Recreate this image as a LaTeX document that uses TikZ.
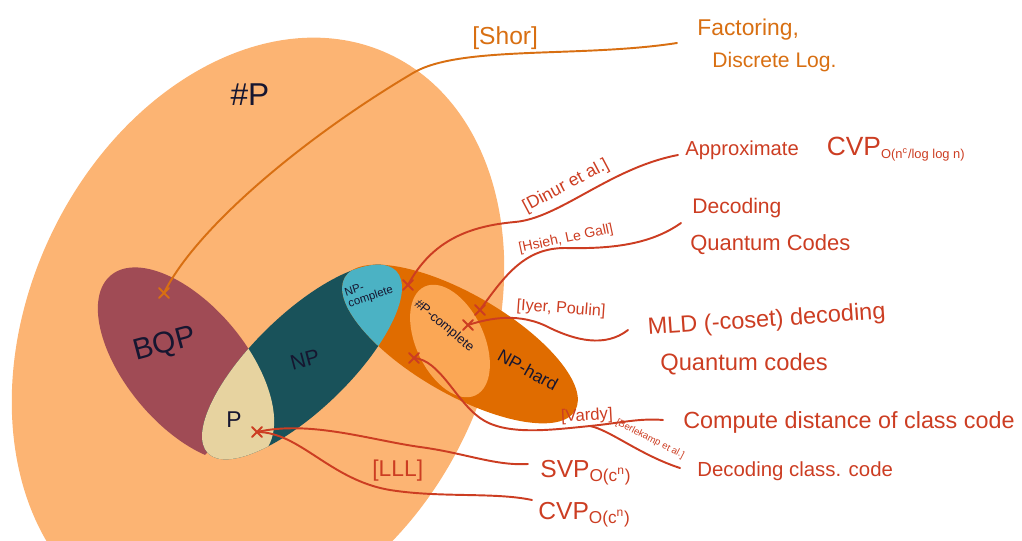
\documentclass[tikz,border=0pt]{standalone}
\usepackage{fontspec}
\setmainfont{Liberation Sans}
\definecolor{cSharpP}{HTML}{FCB473}
\definecolor{cBQP}{HTML}{A04B55}
\definecolor{cNP}{HTML}{19525A}
\definecolor{cP}{HTML}{E7D3A0}
\definecolor{cNPh}{HTML}{E06C00}
\definecolor{cNPc}{HTML}{4BB2C4}
\definecolor{cSPc}{HTML}{FBA755}
\definecolor{cRed}{HTML}{CC3D22}
\definecolor{cShor}{HTML}{D86F12}
\definecolor{cInk}{HTML}{161630}
\newcommand\fsz[1]{\fontsize{#1}{#1}\selectfont}
\newcommand\crossmark[2]{\draw[#1] (#2) ++(-5,-5) -- ++(10,10) (#2) ++(-5,5) -- ++(10,-10);}
\tikzset{
  redline/.style={draw=cRed, line width=1.1pt, line cap=round},
  shorline/.style={draw=cShor, line width=1.1pt, line cap=round},
  redtext/.style={text=cRed, inner sep=0pt},
  shortext/.style={text=cShor, inner sep=0pt},
  classtext/.style={text=cInk, inner sep=0pt},
}
\begin{document}
\begin{tikzpicture}[x=0.02cm, y=-0.02cm]
\useasboundingbox (0,0) rectangle (1022,541);
% regions
\fill[cSharpP, shift={(258,335)}, rotate=-25] (0,0) ellipse [x radius=230, y radius=310];
\fill[cBQP, shift={(186,365)}, rotate=-50] (0,0) ellipse [x radius=117, y radius=60];
% trim the part of BQP that lies below the lower end of NP
\begin{scope}
  \clip (86,570) -- (518,153) -- (726,369) -- (294,786) -- cycle;
  \fill[cSharpP, shift={(186,365)}, rotate=-50] (0,0) ellipse [x radius=118, y radius=61];
\end{scope}
\fill[cNP, shift={(302,362)}, rotate=44] (0,0) ellipse [x radius=131, y radius=48];
\begin{scope}
  \clip[shift={(186,365)}, rotate=-50] (0,0) ellipse [x radius=117, y radius=60];
  \fill[cP, shift={(302,362)}, rotate=44] (0,0) ellipse [x radius=131, y radius=48];
\end{scope}
\fill[cNPh, shift={(460,344)}, rotate=-30] (0,0) ellipse [x radius=133, y radius=50];
\begin{scope}
  \clip[shift={(302,362)}, rotate=44] (0,0) ellipse [x radius=131, y radius=48];
  \fill[cNPc, shift={(460,344)}, rotate=-30] (0,0) ellipse [x radius=133, y radius=50];
\end{scope}
\fill[cSPc, shift={(450,341)}, rotate=-65] (0,0) ellipse [x radius=60, y radius=34];

% cross points and line ends
\coordinate (xShor) at (164,293);
\coordinate (xDinur) at (408,285);
\coordinate (xHsieh) at (480,310);
\coordinate (xIyer) at (468,325);
\coordinate (xVardy) at (414,358);
\coordinate (xLLL) at (257,432);
\coordinate (wShor) at (413,73);
\coordinate (eShor) at (677,43);
\coordinate (wDinur) at (515,222);
\coordinate (eDinur) at (678,155);
\coordinate (wHsieh) at (565,248);
\coordinate (eHsieh) at (681,223);
\coordinate (wIyer) at (550,328);
\coordinate (eIyer) at (628,330);
\coordinate (wVardy) at (480,418);
\coordinate (bVardy) at (590,426);
\coordinate (eComp) at (663,420);
\coordinate (eDcc) at (680,468);
\coordinate (wSvp) at (420,447);
\coordinate (eSvp) at (528,464);
\coordinate (wCvp) at (390,490);
\coordinate (eCvp) at (532,500);

% connectors
\draw[shorline] (xShor) .. controls (195,230) and (300,140) .. (wShor)
  .. controls (460,45) and (580,58) .. (eShor);
\draw[redline] (xDinur) .. controls (432,240) and (470,226) .. (wDinur)
  .. controls (560,218) and (610,168) .. (eDinur);
\draw[redline] (xHsieh) .. controls (505,275) and (525,248) .. (wHsieh)
  .. controls (610,249) and (650,245) .. (eHsieh);
\draw[redline] (xIyer) .. controls (490,318) and (520,312) .. (wIyer)
  .. controls (575,340) and (605,348) .. (eIyer);
\draw[redline] (xVardy) .. controls (440,360) and (455,400) .. (wVardy)
  .. controls (505,436) and (550,430) .. (bVardy)
  .. controls (620,423) and (640,418) .. (eComp);
\draw[redline] (bVardy) .. controls (610,430) and (640,455) .. (eDcc);
\draw[redline] (xLLL) .. controls (310,420) and (370,440) .. (wSvp)
  .. controls (465,453) and (495,466) .. (eSvp);
\draw[redline] (xLLL) .. controls (300,432) and (330,480) .. (wCvp)
  .. controls (440,498) and (495,492) .. (eCvp);

% crosses
\crossmark{shorline}{xShor}
\crossmark{redline}{xDinur}
\crossmark{redline}{xHsieh}
\crossmark{redline}{xIyer}
\crossmark{redline}{xVardy}
\crossmark{redline}{xLLL}

% class labels
\node[classtext, font=\fsz{18}] (lSharpP) at (250,95) {\#P};
\node[classtext, font=\fsz{17}, rotate=15] (lBQP) at (165,345) {BQP};
\node[classtext, font=\fsz{12}, rotate=15] (lNP) at (305,360) {NP};
\node[classtext, font=\fsz{13}] (lP) at (234,420) {P};
\node[classtext, font=\fsz{6.5}, rotate=18, align=left] (lNPc) at (369,292) {NP-\\complete};
\node[classtext, font=\fsz{7.4}, rotate=-40] (lSPc) at (444,326) {\#P-complete};
\node[classtext, font=\fsz{10}, rotate=-29] (lNPh) at (528,370) {NP-hard};

% reference labels
\node[shortext, font=\fsz{14}, anchor=base west] (rShor) at (472,45) {[Shor]};
\node[redtext, font=\fsz{10}, rotate=28] (rDinur) at (566,186) {[Dinur et al.]};
\node[redtext, font=\fsz{8}, rotate=12] (rHsieh) at (566,239) {[Hsieh, Le Gall]};
\node[redtext, font=\fsz{9.2}, rotate=-4] (rIyer) at (561,309) {[Iyer, Poulin]};
\node[redtext, font=\fsz{9.5}, anchor=base west, rotate=3] (rVardy) at (561,422) {[Vardy]};
\node[redtext, font=\fsz{5.5}, rotate=-27] (rBerl) at (650,439) {[Berlekamp et al.]};
\node[redtext, font=\fsz{13}, anchor=base west] (rLLL) at (372,476) {[LLL]};

% problem labels
\node[shortext, font=\fsz{13}, anchor=base west] (tFact) at (697,35) {Factoring,};
\node[shortext, font=\fsz{12}, anchor=base west] (tDlog) at (712,68) {Discrete Log.};
\node[redtext, font=\fsz{11.5}, anchor=base west] (tApprox) at (685,155) {Approximate\hspace{16pt}{\fsz{15}CVP}{\fsz{10.5}\textsubscript{O(n\textsuperscript{c}/log log n)}}};
\node[redtext, font=\fsz{12}, anchor=base west] (tDec1) at (692,213) {Decoding};
\node[redtext, font=\fsz{12.5}, anchor=base west] (tDec2) at (690,250) {Quantum Codes};
\node[redtext, font=\fsz{13.4}, anchor=base west, rotate=4] (tMld1) at (648,335) {MLD (-coset) decoding};
\node[redtext, font=\fsz{13.5}, anchor=base west] (tMld2) at (660,370) {Quantum codes};
\node[redtext, font=\fsz{13.3}, anchor=base west] (tComp) at (683,428) {Compute distance of class code};
\node[redtext, font=\fsz{11.6}, anchor=base west] (tDcc) at (697,476) {Decoding class. code};
\node[redtext, font=\fsz{14}, anchor=base west] (tSvp) at (540,477) {SVP\textsubscript{O(c\textsuperscript{n})}};
\node[redtext, font=\fsz{14}, anchor=base west] (tCvp) at (538,519) {CVP\textsubscript{O(c\textsuperscript{n})}};
\end{tikzpicture}
\end{document}
